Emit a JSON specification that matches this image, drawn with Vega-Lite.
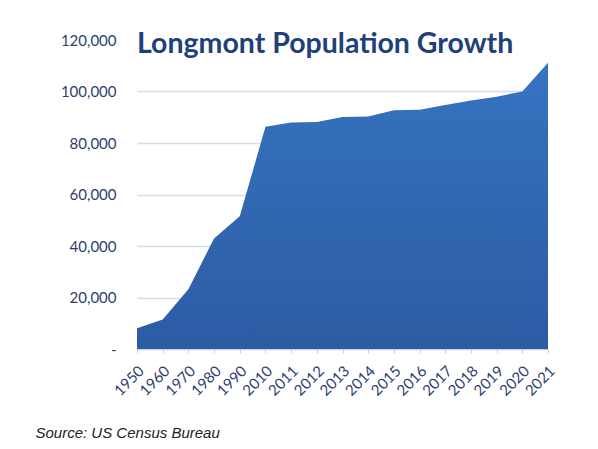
{
  "$schema": "https://vega.github.io/schema/vega-lite/v6.json",
  "autosize": {"type": "none"},
  "width": 411,
  "height": 309,
  "padding": {"left": 137, "top": 40, "right": 50, "bottom": 100},
  "background": "white",
  "title": {
    "text": "Longmont Population Growth",
    "anchor": "start",
    "frame": "group",
    "orient": "top",
    "offset": -48,
    "font": "Lato",
    "fontSize": 28.5,
    "fontWeight": "bold",
    "color": "#1f4079",
    "baseline": "alphabetic"
  },
  "data": {
    "values": [
      {"year": "1950", "population": 8099},
      {"year": "1960", "population": 11489},
      {"year": "1970", "population": 23209},
      {"year": "1980", "population": 42942},
      {"year": "1990", "population": 51555},
      {"year": "2010", "population": 86270},
      {"year": "2011", "population": 88000},
      {"year": "2012", "population": 88200},
      {"year": "2013", "population": 90100},
      {"year": "2014", "population": 90300},
      {"year": "2015", "population": 92700},
      {"year": "2016", "population": 92900},
      {"year": "2017", "population": 94800},
      {"year": "2018", "population": 96500},
      {"year": "2019", "population": 98000},
      {"year": "2020", "population": 100000},
      {"year": "2021", "population": 111200}
    ]
  },
  "mark": {
    "type": "area",
    "interpolate": "linear",
    "color": {
      "gradient": "linear",
      "x1": 0, "y1": 0, "x2": 0, "y2": 1,
      "stops": [
        {"offset": 0, "color": "#3673c2"},
        {"offset": 1, "color": "#2c5ca2"}
      ]
    }
  },
  "encoding": {
    "x": {
      "field": "year",
      "type": "ordinal",
      "scale": {"type": "point", "padding": 0},
      "axis": {
        "title": "Source: US Census Bureau",
        "titleFont": "Liberation Sans",
        "titleFontStyle": "italic",
        "titleFontWeight": "normal",
        "titleFontSize": 15,
        "titleColor": "#222222",
        "titleAnchor": "start",
        "titleAlign": "left",
        "titleBaseline": "alphabetic",
        "titleX": -102,
        "titleY": 88,
        "labelAngle": -45,
        "labelAlign": "right",
        "labelBaseline": "middle",
        "labelFont": "Lato",
        "labelFontSize": 15,
        "labelColor": "#2d3e6e",
        "labelPadding": 15,
        "labelOffset": 4,
        "domainColor": "#c5cde0",
        "tickColor": "#c5cde0",
        "tickSize": 4,
        "grid": false
      }
    },
    "y": {
      "field": "population",
      "type": "quantitative",
      "scale": {"domain": [0, 120000], "nice": false},
      "axis": {
        "title": null,
        "values": [0, 20000, 40000, 60000, 80000, 100000, 120000],
        "labelExpr": "datum.value === 0 ? '-\u00a0\u00a0' : format(datum.value, ',')",
        "labelFont": "Lato",
        "labelFontSize": 15,
        "labelColor": "#2d3e6e",
        "labelPadding": 21,
        "ticks": false,
        "domain": false,
        "grid": true,
        "gridColor": {"condition": {"test": "datum.value >= 120000", "value": "transparent"}, "value": "#d8dcea"},
        "gridWidth": 1.5
      }
    }
  },
  "config": {"view": {"stroke": null}}
}
